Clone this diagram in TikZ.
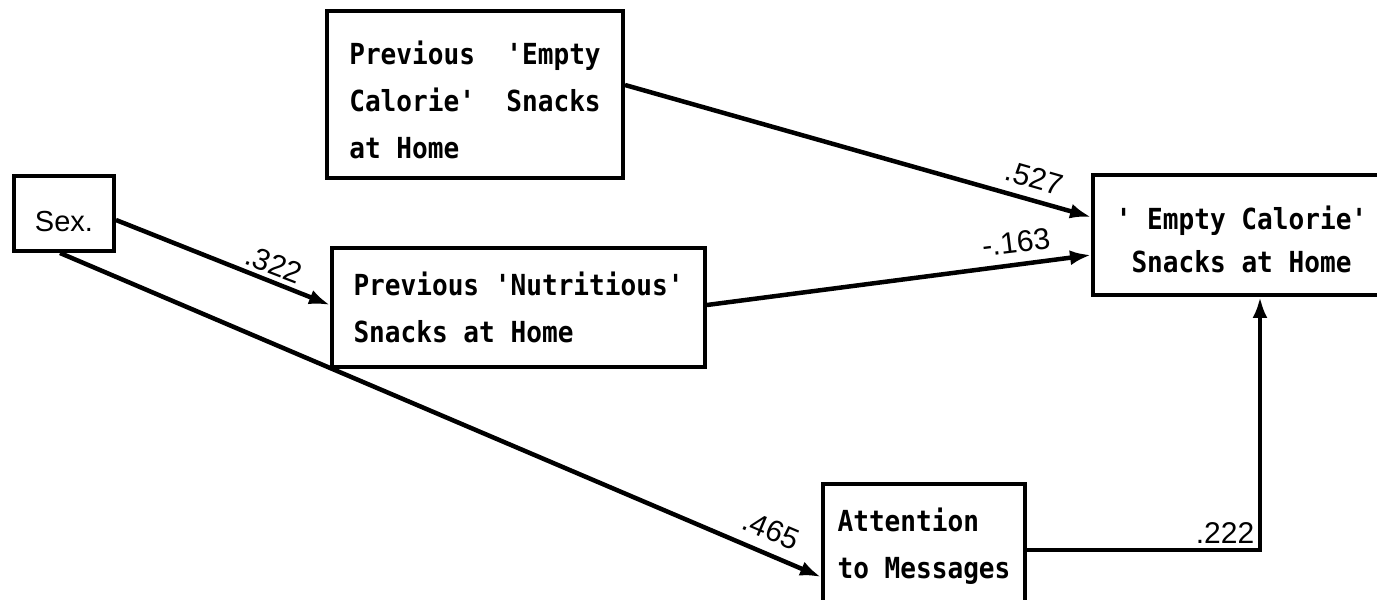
\documentclass[tikz,border=0pt]{standalone}
\usepackage{fontspec}
\usetikzlibrary{arrows.meta}
\newfontfamily\boxfont{DejaVu Sans Mono}[Ligatures=TeXOff, FakeStretch=0.9]
\newfontfamily\coeffont{Liberation Sans}
\begin{document}
\begin{tikzpicture}[x=1pt,y=1pt,
  box/.style={draw, line width=4pt, inner sep=0pt, align=left,
    font=\boxfont\bfseries\fontsize{29}{47}\selectfont},
  effect/.style={line width=4.5pt, -{Latex[length=21pt,width=15pt]}},
  coef/.style={font=\coeffont\fontsize{30}{32}\selectfont, inner sep=0pt}]
\clip (0,0) rectangle (1377,600);
\fill[white] (0,0) rectangle (1377,600);

% variables
\node[box, minimum width=296pt, minimum height=167pt] (A) at (475,505.5)
  {\rule{0pt}{34pt}Previous~~'Empty\\Calorie'~~Snacks\\at~Home};
\node[box, font=\coeffont\fontsize{29}{31}\selectfont,
  minimum width=100pt, minimum height=75pt] (S) at (64,386.5)
  {\rule{0pt}{37pt}Sex.};
\node[box, minimum width=373pt, minimum height=119pt] (N) at (518.5,292.5)
  {Previous~'Nutritious'\\Snacks~at~Home};
\node[box, align=center, font=\boxfont\bfseries\fontsize{29}{43}\selectfont,
  minimum width=297pt, minimum height=120pt] (E) at (1241.5,365)
  {\rule{0pt}{32pt}'~Empty~Calorie'\\Snacks~at~Home};
\node[box, minimum width=202pt, minimum height=124pt] (T) at (924,54)
  {Attention\\to~Messages};

% paths
\draw[effect] ([yshift=9.5pt]A.east) -- ([yshift=18pt]E.west);
\draw[effect] ([yshift=2.5pt]N.east) -- ([yshift=-20pt]E.west);
\draw[effect] ([yshift=-6.5pt]S.east) -- ([yshift=2.5pt]N.west);
\draw[effect] ([xshift=-4pt]S.south) -- ([yshift=-31pt]T.west);
\draw[effect] ([yshift=-4pt]T.east) -| ([xshift=18.5pt]E.south);

% path coefficients
\node[coef, rotate=-16] (cAE) at (1034,422) {.527};
\node[coef, rotate=7] (cNE) at (1016,358) {-.163};
\node[coef, rotate=-21] (cSN) at (274,336) {.322};
\node[coef, rotate=-23] (cST) at (771,70) {.465};
\node[coef] (cTE) at (1225,67) {.222};
\end{tikzpicture}
\end{document}
